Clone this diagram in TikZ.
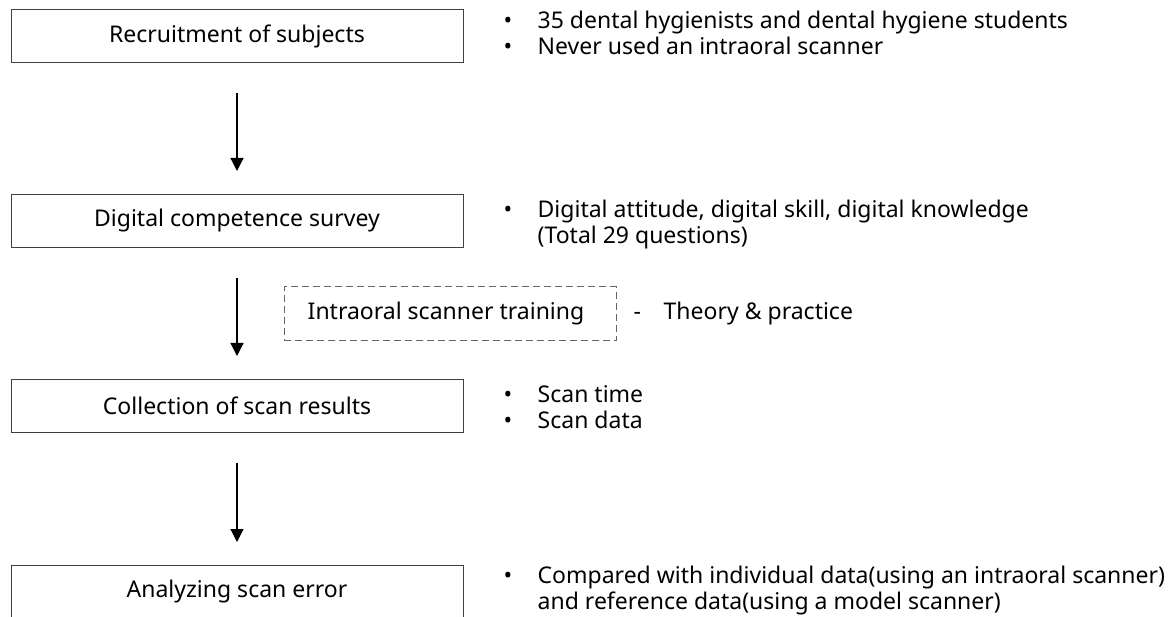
\documentclass[tikz,border=0pt]{standalone}
\usepackage{fontspec}
\setmainfont{Noto Sans}
\usetikzlibrary{arrows.meta,positioning}

\newcommand{\itm}{\makebox[34pt][l]{•}}
\newcommand{\noitm}{\hspace*{34pt}}

\begin{document}
\begin{tikzpicture}[
  x=1pt,y=-1pt,
  every node/.style={font=\fontsize{23}{26}\selectfont},
  stepbox/.style={draw=black!75,line width=1pt,rectangle,minimum width=452pt,minimum height=53pt,inner sep=0pt},
  trainbox/.style={draw=black!60,line width=1pt,dash pattern=on 7pt off 4pt,rectangle,minimum width=332pt,minimum height=54pt,inner sep=0pt},
  note/.style={align=left,inner sep=0pt,anchor=west},
  flow/.style={-{Triangle[width=13pt,length=13pt]},line width=1.2pt,shorten <=30pt,shorten >=23pt},
]
\useasboundingbox (0,0) rectangle (1168,617);

% steps on the left
\node[stepbox] (rec) at (237,36.5) {Recruitment of subjects};
\node[stepbox] (dig) at (237,221) {Digital competence survey};
\node[stepbox] (col) at (237,406) {Collection of scan results};
\node[stepbox] (ana) at (237,592) {Analyzing scan error};
\draw[flow] (rec.south) -- (dig.north);
\draw[flow] (dig.south) -- (col.north);
\draw[flow] (col.south) -- (ana.north);

% training between survey and collection
\node[trainbox] (trn) at (450,314) {\hspace*{-8pt}Intraoral scanner training};

% notes on the right
\node[note,right=40pt of rec,yshift=3.5pt] (recn) {\itm 35 dental hygienists and dental hygiene students\\ \itm Never used an intraoral scanner};
\node[note,right=40pt of dig,yshift=-4pt] (dign) {\itm Digital attitude, digital skill, digital knowledge\\ \noitm (Total 29 questions)};
\node[note,right=17pt of trn] (trnn) {\makebox[30pt][l]{-}Theory \& practice};
\node[note,right=40pt of col,yshift=-1pt] (coln) {\itm Scan time\\ \itm Scan data};
\node[note,right=40pt of ana,yshift=1pt] (anan) {\itm Compared with individual data(using an intraoral scanner)\\ \noitm and reference data(using a model scanner)};

\end{tikzpicture}
\end{document}
